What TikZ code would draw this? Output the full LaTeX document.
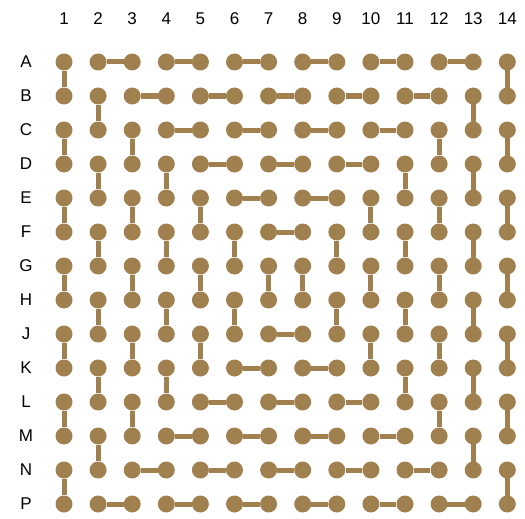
\documentclass[tikz,border=0pt]{standalone}
\usepackage{fontspec}
\setmainfont{Liberation Sans}
\usepackage{xcolor}
\usetikzlibrary{positioning}

\definecolor{dotbrown}{RGB}{161,128,80}

\begin{document}
\begin{tikzpicture}[
x=1pt, y=-1pt,
dot/.style={circle, fill=dotbrown, inner sep=0pt, minimum size=17pt},
link/.style={draw=dotbrown, line width=5pt, shorten <=-2pt, shorten >=-2pt},
lab/.style={font=\fontsize{17}{20}\selectfont, inner sep=0pt},
]
\useasboundingbox (0,0) rectangle (525,519);

% Grid of dots with row and column labels
\foreach \c in {1,...,14}
  \node[lab] (n\c) at ({64+(\c-1)*34.1},19) {\c};
\foreach \name [count=\i from 0] in {A,B,C,D,E,F,G,H,J,K,L,M,N,P} {
  \node[lab] (l\name) at (26,{62+\i*34}) {\name};
  \foreach \c in {1,...,14}
    \node[dot] (\name\c) at ({64+(\c-1)*34.1},{62+\i*34}) {};
}

% Links
\draw[link] (A1) -- (B1) (A2) -- (A3) (A4) -- (A5) (A6) -- (A7) (A8) -- (A9) (A10) -- (A11) (A12) -- (A13) (A14) -- (B14);
\draw[link] (B2) -- (C2) (B3) -- (B4) (B5) -- (B6) (B7) -- (B8) (B9) -- (B10) (B11) -- (B12) (B13) -- (C13);
\draw[link] (C1) -- (D1) (C3) -- (D3) (C4) -- (C5) (C6) -- (C7) (C8) -- (C9) (C10) -- (C11) (C12) -- (D12) (C14) -- (D14);
\draw[link] (D2) -- (E2) (D4) -- (E4) (D5) -- (D6) (D7) -- (D8) (D9) -- (D10) (D11) -- (E11) (D13) -- (E13);
\draw[link] (E1) -- (F1) (E3) -- (F3) (E5) -- (F5) (E6) -- (E7) (E8) -- (E9) (E10) -- (F10) (E12) -- (F12) (E14) -- (F14);
\draw[link] (F2) -- (G2) (F4) -- (G4) (F6) -- (G6) (F7) -- (F8) (F9) -- (G9) (F11) -- (G11) (F13) -- (G13);
\draw[link] (G1) -- (H1) (G3) -- (H3) (G5) -- (H5) (G7) -- (H7) (G8) -- (H8) (G10) -- (H10) (G12) -- (H12) (G14) -- (H14);
\draw[link] (H2) -- (J2) (H4) -- (J4) (H6) -- (J6) (H9) -- (J9) (H11) -- (J11) (H13) -- (J13);
\draw[link] (J1) -- (K1) (J3) -- (K3) (J5) -- (K5) (J7) -- (J8) (J10) -- (K10) (J12) -- (K12) (J14) -- (K14);
\draw[link] (K2) -- (L2) (K4) -- (L4) (K6) -- (K7) (K8) -- (K9) (K11) -- (L11) (K13) -- (L13);
\draw[link] (L1) -- (M1) (L3) -- (M3) (L5) -- (L6) (L7) -- (L8) (L9) -- (L10) (L12) -- (M12) (L14) -- (M14);
\draw[link] (M2) -- (N2) (M4) -- (M5) (M6) -- (M7) (M8) -- (M9) (M10) -- (M11) (M13) -- (N13);
\draw[link] (N1) -- (P1) (N3) -- (N4) (N5) -- (N6) (N7) -- (N8) (N9) -- (N10) (N11) -- (N12) (N14) -- (P14);
\draw[link] (P2) -- (P3) (P4) -- (P5) (P6) -- (P7) (P8) -- (P9) (P10) -- (P11) (P12) -- (P13);

\end{tikzpicture}
\end{document}
